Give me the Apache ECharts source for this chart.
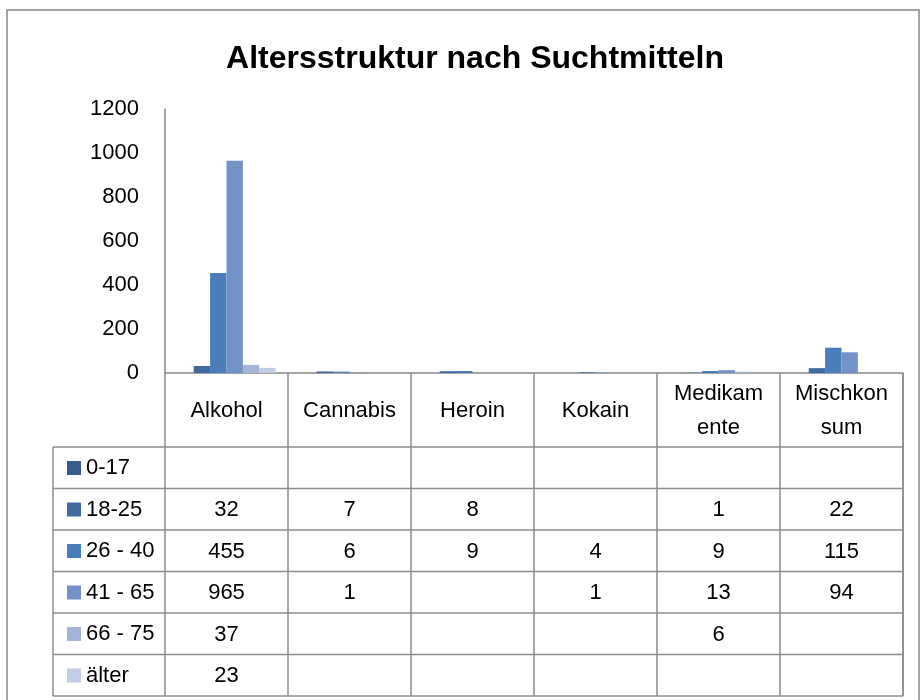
<!DOCTYPE html>
<html>
<head>
<meta charset="utf-8">
<script src="https://cdn.jsdelivr.net/npm/echarts@6/dist/echarts.min.js"></script>
<style>
  html, body { margin: 0; padding: 0; background: #fff; }
  #chart { width: 920px; height: 700px; }
</style>
</head>
<body>
<div id="chart"></div>
<script>
// categories and series
var categories = ['Alkohol', 'Cannabis', 'Heroin', 'Kokain', 'Medikamente', 'Mischkonsum'];
var categoryLabels = ['Alkohol', 'Cannabis', 'Heroin', 'Kokain', 'Medikam\nente', 'Mischkon\nsum'];
var ageGroups = ['0-17', '18-25', '26 - 40', '41 - 65', '66 - 75', 'älter'];
var age0_17 = [null, null, null, null, null, null];
var age18_25 = [32, 7, 8, null, 1, 22];
var age26_40 = [455, 6, 9, 4, 9, 115];
var age41_65 = [965, 1, null, 1, 13, 94];
var age66_75 = [37, null, null, null, 6, null];
var ageOlder = [23, null, null, null, null, null];
var yTicks = [0, 200, 400, 600, 800, 1000, 1200];

var colors = ['#385D8A', '#416A9E', '#4A7EBB', '#7393C8', '#A3B4D7', '#C1CDE4'];
var seriesData = [age0_17, age18_25, age26_40, age41_65, age66_75, ageOlder];

var font = '"Liberation Sans", Arial, sans-serif';
var fs = 22;
var lineColor = '#8C8C8C';

// table layout
var tableLeft = 53, tableRight = 903;
var headerTop = 373, rowTop = 447, rowH = 41.5;

var chart = echarts.init(document.getElementById('chart'));

var series = ageGroups.map(function (name, i) {
  return {
    name: name,
    type: 'bar',
    data: seriesData[i],
    barGap: 0,
    barCategoryGap: '20%',
    itemStyle: { color: colors[i] }
  };
});

chart.setOption({
  animation: false,
  color: colors,
  title: {
    text: 'Altersstruktur nach Suchtmitteln',
    left: 470,
    textAlign: 'center',
    top: 38,
    textStyle: { fontFamily: font, fontWeight: 'bold', fontSize: 32, color: '#000' }
  },
  grid: { left: 165, right: 17, top: 109, bottom: 327 },
  legend: {
    orient: 'vertical',
    left: 62,
    top: 452,
    itemWidth: 14,
    itemHeight: 14,
    itemGap: 19.5,
    icon: 'rect',
    data: ageGroups,
    textStyle: { fontFamily: font, fontSize: fs, color: '#000', lineHeight: 22 }
  },
  xAxis: {
    type: 'category',
    data: categories,
    axisLine: { lineStyle: { color: '#868686', width: 1.5 } },
    axisTick: { show: true, length: 323, lineStyle: { color: lineColor, width: 1.5 } },
    axisLabel: {
      interval: 0,
      margin: 38,
      verticalAlign: 'middle',
      lineHeight: 34,
      fontFamily: font,
      fontSize: fs,
      color: '#000',
      formatter: function (v, idx) { return categoryLabels[idx]; }
    }
  },
  yAxis: {
    type: 'value',
    min: yTicks[0],
    max: yTicks[yTicks.length - 1],
    interval: 200,
    splitLine: { show: false },
    axisTick: { show: false },
    axisLine: { show: true, lineStyle: { color: '#868686', width: 1.5 } },
    axisLabel: {
      margin: 26,
      fontFamily: font,
      fontSize: fs,
      color: '#000',
      formatter: function (v) { return String(v); }
    }
  },
  series: series
});

// data table drawn below the axis
var elements = [];
elements.push({
  type: 'rect',
  shape: { x: 7, y: 10, width: 912, height: 700 },
  style: { fill: 'none', stroke: '#868686', lineWidth: 1.5 },
  silent: true
});
for (var r = 0; r <= ageGroups.length; r++) {
  var y = rowTop + r * rowH;
  elements.push({
    type: 'line',
    shape: { x1: tableLeft, y1: y, x2: tableRight, y2: y },
    style: { stroke: lineColor, lineWidth: 1.5 },
    silent: true
  });
}
elements.push({
  type: 'line',
  shape: { x1: tableLeft, y1: rowTop, x2: tableLeft, y2: rowTop + ageGroups.length * rowH },
  style: { stroke: lineColor, lineWidth: 1.5 },
  silent: true
});
elements.push({
  type: 'line',
  shape: { x1: tableRight, y1: headerTop, x2: tableRight, y2: rowTop + ageGroups.length * rowH },
  style: { stroke: lineColor, lineWidth: 1.5 },
  silent: true
});
seriesData.forEach(function (arr, r) {
  arr.forEach(function (v, c) {
    if (v == null) return;
    var x = chart.convertToPixel({ xAxisIndex: 0 }, categories[c]);
    elements.push({
      type: 'text',
      x: x,
      y: rowTop + r * rowH + rowH / 2 + 1,
      style: {
        text: String(v),
        fontFamily: font,
        fontSize: fs,
        fill: '#000',
        align: 'center',
        verticalAlign: 'middle'
      },
      silent: true
    });
  });
});
chart.setOption({ graphic: elements });
</script>
</body>
</html>
